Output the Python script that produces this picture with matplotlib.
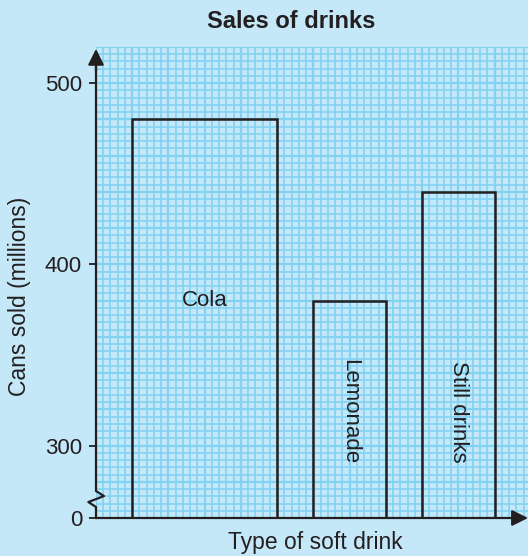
import matplotlib
matplotlib.use('Agg')
import matplotlib.pyplot as plt
import numpy as np

plt.rcParams['font.family'] = ['Liberation Sans', 'DejaVu Sans']

# data
drinks = ['Cola', 'Lemonade', 'Still drinks']
cans = [480, 380, 440]

# layout on the graph paper (x in small squares)
bar_centers = [15, 35, 50]
bar_widths = [20, 10, 10]
y_ticks = [260, 300, 400, 500]
y_tick_labels = ['0', '300', '400', '500']

bg = '#c5e8f9'
grid_c = '#82d2f2'
ink = '#231f20'

fig = plt.figure(figsize=(5.28, 5.56), dpi=100, facecolor=bg)
ax = fig.add_axes([96 / 528, 38 / 556, 432 / 528, 471 / 556])
ax.set_facecolor(bg)

x_max = 59.6
ax.set_xlim(0, x_max)
ax.set_ylim(260, 520)

# graph paper
for x in np.arange(0, 60, 1):
    major = x % 5 == 0
    ax.axvline(x, color=grid_c, lw=1.6 if major else 1.2, zorder=0)
for y in np.arange(260, 521, 4):
    major = (y - 260) % 20 == 0
    ax.axhline(y, color=grid_c, lw=1.6 if major else 1.2, zorder=0)

# bars
ax.bar(bar_centers, [c - 260 for c in cans], width=bar_widths, bottom=260,
       facecolor='none', edgecolor=ink, lw=1.8, zorder=3)

ax.text(bar_centers[0], 380, drinks[0], ha='center', va='center',
        fontsize=16, color=ink, zorder=4)
ax.text(bar_centers[1], 318.5, drinks[1], ha='center', va='center',
        rotation=-90, fontsize=16, color=ink, zorder=4)
ax.text(bar_centers[2], 318.5, drinks[2], ha='center', va='center',
        rotation=-90, fontsize=16, color=ink, zorder=4)

# axes with broken y axis
for s in ax.spines.values():
    s.set_visible(False)
ax.plot([0, 0, -1.06, 1.1, 0, 0], [260, 266.1, 268.8, 272.1, 274.9, 510],
        color=ink, lw=1.6, clip_on=False, zorder=5)
ax.annotate('', xy=(0, 520.5), xytext=(0, 505),
            arrowprops=dict(arrowstyle='-|>', color=ink, lw=1.6, mutation_scale=24),
            annotation_clip=False, zorder=5)
ax.annotate('', xy=(x_max, 260), xytext=(0, 260),
            arrowprops=dict(arrowstyle='-|>', color=ink, lw=1.6, mutation_scale=24,
                            shrinkA=0, shrinkB=0),
            annotation_clip=False, zorder=5)

ax.set_xticks([])
ax.set_yticks(y_ticks)
ax.set_yticklabels(y_tick_labels)
ax.tick_params(axis='y', length=5, width=1.3, color=ink, labelcolor=ink,
               labelsize=16, pad=5)

fig.text(291 / 528, 1 - 22 / 556, 'Sales of drinks', ha='center', va='center',
         fontsize=17, fontweight='bold', color=ink)
fig.text(20 / 528, 1 - 296 / 556, 'Cans sold (millions)', ha='center', va='center',
         rotation=90, fontsize=16.5, color=ink)
fig.text(315 / 528, 1 - 543 / 556, 'Type of soft drink', ha='center', va='center',
         fontsize=16.5, color=ink)

fig.savefig('out.png', dpi=100, facecolor=bg)
